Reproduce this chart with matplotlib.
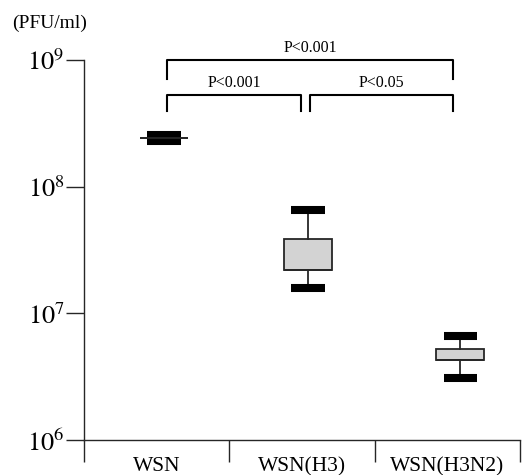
#!/usr/bin/env python3

import numpy as np
from matplotlib import pyplot as plt

plt.rcParams['font.family'] = ['Liberation Serif', 'DejaVu Serif']
plt.rcParams['mathtext.fontset'] = 'stix'

# data (log10 of PFU/ml)
groups = ['WSN', 'WSN(H3)', 'WSN(H3N2)']
whis_lo = [8.361, 7.200, 6.493]
q1 = [8.384, 7.342, 6.632]
median = [8.384, 7.342, 6.632]
q3 = [8.384, 7.589, 6.718]
whis_hi = [8.408, 7.816, 6.821]

y_ticks = [1e6, 1e7, 1e8, 1e9]
y_tick_labels = ['$10^6$', '$10^7$', '$10^8$', '$10^9$']

# significance brackets: (x left, x right, y top, y bottom, label), y in log10
brackets = [
    (0.571, 2.540, 9.000, 8.850, 'P<0.001'),
    (0.571, 1.493, 8.724, 8.597, 'P<0.001'),
    (1.555, 2.540, 8.724, 8.597, 'P<0.05'),
]

positions = [0.55, 1.54, 2.59]
LINE = '#262626'


def draw_chart():
    fig = plt.figure(figsize=(5.3, 4.75), dpi=100)
    ax = fig.add_axes([84 / 530, 1 - 440 / 475, 436 / 530, 380 / 475])

    stats = []
    for i in range(len(groups)):
        stats.append(dict(whislo=10 ** whis_lo[i], q1=10 ** q1[i], med=10 ** median[i],
                          q3=10 ** q3[i], whishi=10 ** whis_hi[i], fliers=[]))

    ax.bxp(stats, positions=positions, widths=0.33, capwidths=0.23, patch_artist=True,
           showfliers=False,
           boxprops=dict(facecolor='#d3d3d3', edgecolor=LINE, linewidth=1.3),
           medianprops=dict(color=LINE, linewidth=1.3),
           whiskerprops=dict(color=LINE, linewidth=1.3),
           capprops=dict(color='black', linewidth=5.8, solid_capstyle='butt'),
           manage_ticks=False)

    ax.set_yscale('log')
    ax.set_ylim(1e6, 1e9)
    ax.set_xlim(0, 3)
    ax.minorticks_off()

    ax.set_yticks(y_ticks)
    ax.set_yticklabels(y_tick_labels, fontsize=19)
    ax.tick_params(axis='y', length=13, width=1, color=LINE, pad=1)

    ax.set_xticks([0, 1, 2, 3])
    ax.set_xticklabels([])
    ax.tick_params(axis='x', length=16, width=1, color=LINE)
    for i, g in enumerate(groups):
        ax.text(i + 0.5, -0.045, g, transform=ax.get_xaxis_transform(),
                ha='center', va='top', fontsize=15.5)

    for s in ['top', 'right']:
        ax.spines[s].set_visible(False)
    for s in ['left', 'bottom']:
        ax.spines[s].set_color(LINE)
        ax.spines[s].set_linewidth(1)

    # brackets
    for xl, xr, yt, yb, label in brackets:
        ax.plot([xl, xl, xr, xr], [10 ** yb, 10 ** yt, 10 ** yt, 10 ** yb],
                color='black', linewidth=1.5, clip_on=False)
        ax.text((xl + xr) / 2, 10 ** (yt + 0.03), label, ha='center', va='bottom',
                fontsize=11.5)

    fig.text(12 / 530, 1 - 23 / 475, '(PFU/ml)', ha='left', va='center', fontsize=14)

    fig.savefig('out.png', dpi=100)


if __name__ == '__main__':
    draw_chart()
